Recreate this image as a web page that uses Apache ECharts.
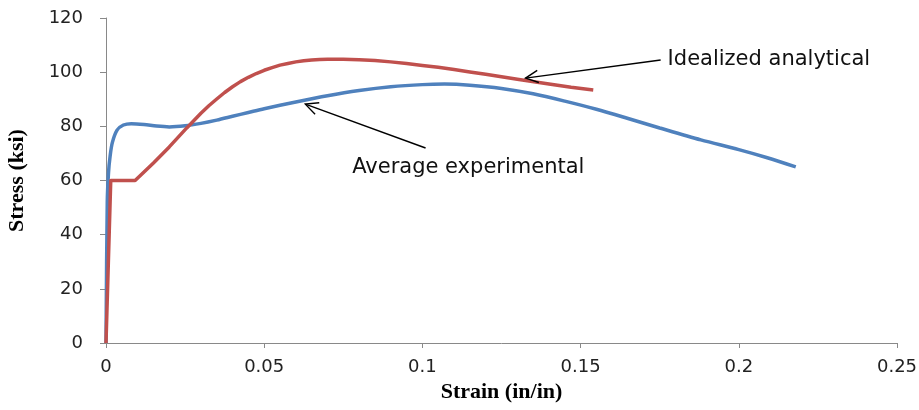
<!DOCTYPE html>
<html>
<head>
<meta charset="utf-8">
<script src="https://cdn.jsdelivr.net/npm/echarts@6/dist/echarts.min.js"></script>
<style>
  html, body { margin: 0; padding: 0; background: #fff; }
  #chart { width: 919px; height: 410px; }
</style>
</head>
<body>
<div id="chart"></div>
<script>
// strain (in/in), stress (ksi)
const experimental = [
  [0, 0], [0.0004, 52], [0.0008, 63], [0.0013, 69], [0.002, 74], [0.0035, 78.6],
  [0.0055, 80.5], [0.008, 81], [0.012, 80.7], [0.016, 80.1], [0.02, 79.8],
  [0.025, 80.2], [0.03, 81.1], [0.035, 82.3], [0.04, 83.7], [0.045, 85.1],
  [0.05, 86.5], [0.06, 89], [0.07, 91.3], [0.08, 93.2], [0.09, 94.6],
  [0.1, 95.4], [0.107, 95.6], [0.115, 95.2], [0.125, 94], [0.135, 92],
  [0.145, 89.3], [0.155, 86.3], [0.165, 82.9], [0.175, 79.4], [0.188, 75],
  [0.2, 71.4], [0.209, 68.4], [0.218, 65]
];

const analytical = [
  [0, 0], [0.0015, 60], [0.0092, 60], [0.015, 66.5], [0.02, 72.4],
  [0.0256, 79.5], [0.03, 84.8], [0.0325, 87.6], [0.035, 90.1], [0.0375, 92.5],
  [0.04, 94.6], [0.0425, 96.5], [0.045, 98.1], [0.0475, 99.5], [0.05, 100.7],
  [0.0525, 101.7], [0.055, 102.6], [0.0575, 103.2], [0.06, 103.8], [0.0625, 104.2],
  [0.065, 104.5], [0.0675, 104.7], [0.07, 104.8], [0.075, 104.8], [0.08, 104.6],
  [0.085, 104.3], [0.09, 103.8], [0.095, 103.2], [0.1, 102.5], [0.105, 101.8],
  [0.11, 101], [0.115, 100.1], [0.12, 99.2], [0.13, 97.4], [0.14, 95.6],
  [0.147, 94.4], [0.154, 93.4]
];

const xTicks = [0, 0.05, 0.1, 0.15, 0.2, 0.25];
const yTicks = [0, 20, 40, 60, 80, 100, 120];

// annotation text + arrow (tail -> tip), in data units
const notes = [
  { text: 'Idealized analytical', at: [0.1775, 104.5], tail: [0.1753, 104.5], tip: [0.1326, 97.8] },
  { text: 'Average experimental', at: [0.0778, 64.6], tail: [0.101, 72], tip: [0.063, 88.2] }
];

const chart = echarts.init(document.getElementById('chart'));

const option = {
  animation: false,
  grid: { left: 106, right: 22, top: 18, bottom: 67, containLabel: false, outerBoundsMode: 'none' },
  xAxis: {
    type: 'value',
    min: xTicks[0],
    max: xTicks[xTicks.length - 1],
    interval: 0.05,
    name: 'Strain (in/in)',
    nameLocation: 'middle',
    nameGap: 36,
    nameTextStyle: { fontFamily: 'Liberation Serif', fontWeight: 'bold', fontSize: 22, color: '#000' },
    axisLine: { lineStyle: { color: '#898989', width: 1 } },
    axisTick: { show: true, length: 5, lineStyle: { color: '#898989' } },
    splitLine: { show: false },
    axisLabel: {
      color: '#222', fontSize: 18, fontFamily: 'DejaVu Sans', margin: 15,
      formatter: v => String(+v.toFixed(2))
    }
  },
  yAxis: {
    type: 'value',
    min: yTicks[0],
    max: yTicks[yTicks.length - 1],
    interval: 20,
    name: 'Stress (ksi)',
    nameLocation: 'middle',
    nameGap: 78,
    nameRotate: 90,
    nameTextStyle: { fontFamily: 'Liberation Serif', fontWeight: 'bold', fontSize: 22, color: '#000' },
    axisLine: { show: true, lineStyle: { color: '#898989', width: 1 } },
    axisTick: { show: true, length: 6, lineStyle: { color: '#898989' } },
    splitLine: { show: false },
    axisLabel: { color: '#222', fontSize: 18, fontFamily: 'DejaVu Sans', margin: 23 }
  },
  series: [
    {
      name: 'Average experimental',
      type: 'line',
      data: experimental,
      showSymbol: false,
      smooth: 0.3,
      lineStyle: { color: '#4F81BD', width: 3.5 },
      z: 2
    },
    {
      name: 'Idealized analytical',
      type: 'line',
      data: analytical,
      showSymbol: false,
      smooth: false,
      lineStyle: { color: '#C0504D', width: 3.5, join: 'round' },
      z: 3
    }
  ]
};

chart.setOption(option);

// draw the annotations with open arrow heads
function arrowHead(tip, tail) {
  const ang = Math.atan2(tail[1] - tip[1], tail[0] - tip[0]);
  const len = 14, spread = 0.45;
  const p1 = [tip[0] + len * Math.cos(ang + spread), tip[1] + len * Math.sin(ang + spread)];
  const p2 = [tip[0] + len * Math.cos(ang - spread), tip[1] + len * Math.sin(ang - spread)];
  return { type: 'polyline', shape: { points: [p1, tip, p2] }, style: { stroke: '#000', lineWidth: 1.4, fill: null }, z: 10 };
}

const graphics = [];
notes.forEach(n => {
  const tail = chart.convertToPixel({ gridIndex: 0 }, n.tail);
  const tip = chart.convertToPixel({ gridIndex: 0 }, n.tip);
  const at = chart.convertToPixel({ gridIndex: 0 }, n.at);
  graphics.push({
    type: 'line',
    shape: { x1: tail[0], y1: tail[1], x2: tip[0], y2: tip[1] },
    style: { stroke: '#000', lineWidth: 1.4 },
    z: 10
  });
  graphics.push(arrowHead(tip, tail));
  graphics.push({
    type: 'text',
    x: at[0], y: at[1],
    style: {
      text: n.text, fill: '#111', font: '21px "DejaVu Sans"',
      textAlign: 'left', textVerticalAlign: 'middle'
    },
    z: 10
  });
});
chart.setOption({ graphic: graphics });
</script>
</body>
</html>
